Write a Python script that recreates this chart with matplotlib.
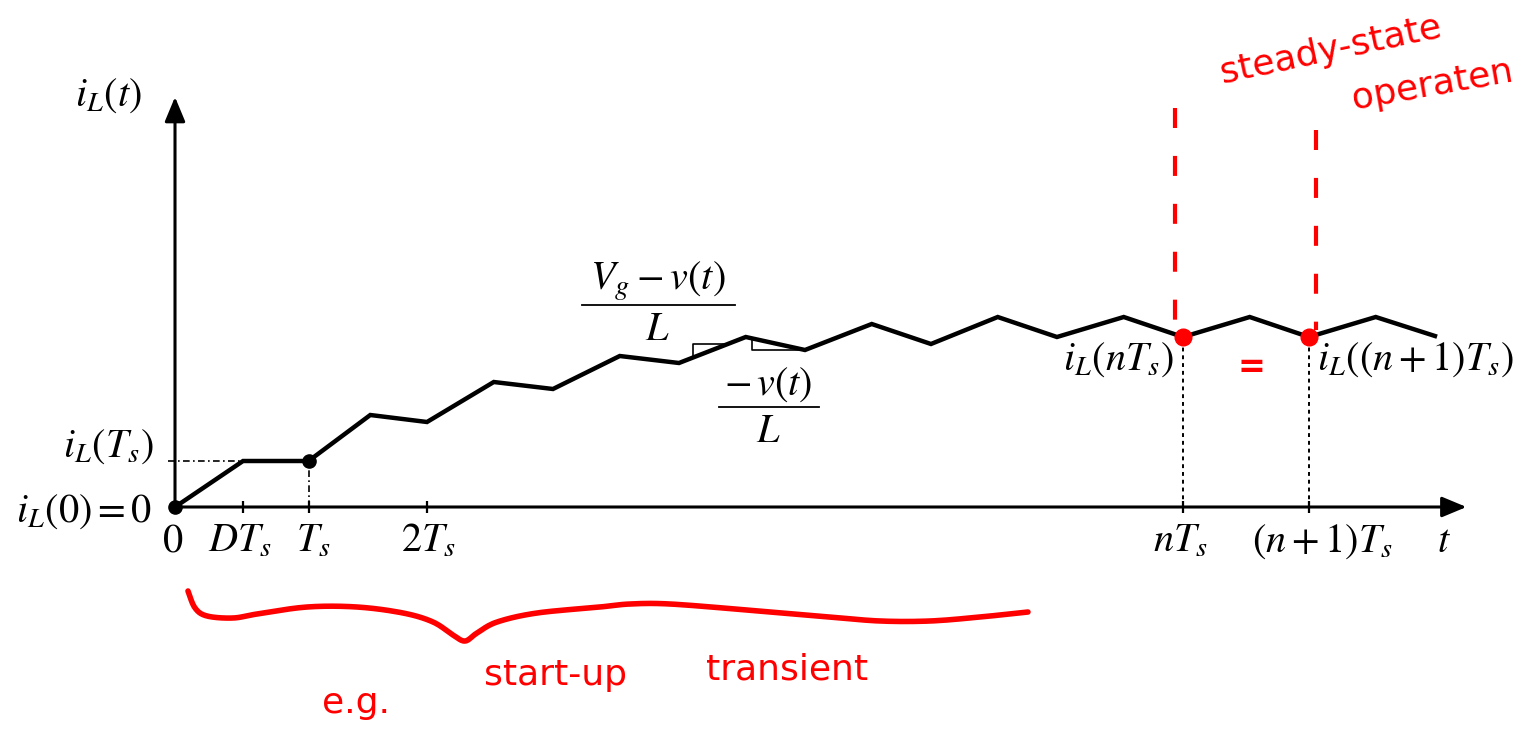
import numpy as np
import matplotlib
matplotlib.use('Agg')
import matplotlib.pyplot as plt

plt.rcParams['mathtext.fontset'] = 'stix'
plt.rcParams['font.family'] = ['DejaVu Sans']

# inductor current during start-up, corner points (t in switching periods)
t_corner = [0, 0.54, 1.06, 1.55, 2.0, 2.53, 3.0, 3.53, 4.0, 4.53, 5.0, 5.53,
            6.0, 6.53, 7.0, 7.53, 8.0, 8.53, 9.0, 9.53, 10.0]
i_corner = [0, 0.46, 0.46, 0.92, 0.85, 1.25, 1.18, 1.51, 1.44, 1.70, 1.57, 1.83,
            1.63, 1.90, 1.70, 1.90, 1.70, 1.90, 1.70, 1.90, 1.71]

# time axis ticks and their labels
tick_t = [0.54, 1.06, 2.0, 8.0, 9.0]
tick_labels = [r'$DT_s$', r'$T_s$', r'$2T_s$', r'$nT_s$', r'$(n+1)T_s$']
tick_label_left = [0.26, 0.96, 1.79, 7.76, 8.55]

# marked samples
i_Ts = 0.46
t_n, t_n1 = 8.0, 9.0
i_n = 1.70

# hand drawn brace under the transient part
brace_t = [0.103, 0.159, 0.254, 0.460, 0.651, 1.048, 1.444, 1.810, 2.048, 2.206,
           2.302, 2.397, 2.556, 2.873, 3.373, 3.611, 3.929, 4.540, 5.198, 5.595,
           5.992, 6.389, 6.770]
brace_i = [-0.84, -1.01, -1.09, -1.11, -1.07, -1.00, -1.00, -1.06, -1.15, -1.28,
           -1.34, -1.26, -1.15, -1.06, -1.00, -0.97, -0.97, -1.03, -1.10, -1.14,
           -1.14, -1.10, -1.05]


def smooth_stroke(xs, ys, n=12):
    # Catmull-Rom pass through the stroke points so the pen line looks round
    p = np.column_stack([xs, ys])
    p = np.vstack([p[0], p, p[-1]])
    out = []
    s = np.linspace(0, 1, n, endpoint=False)[:, None]
    for k in range(1, len(p) - 2):
        p0, p1, p2, p3 = p[k - 1], p[k], p[k + 1], p[k + 2]
        out.append(0.5 * (2 * p1 + (-p0 + p2) * s + (2 * p0 - 5 * p1 + 4 * p2 - p3) * s ** 2
                          + (-p0 + 3 * p1 - 3 * p2 + p3) * s ** 3))
    out.append(p[-2][None, :])
    out = np.vstack(out)
    return out[:, 0], out[:, 1]


fig = plt.figure(figsize=(15.37, 7.36), dpi=100)
ax = fig.add_axes([0, 0, 1, 1])
ax.set_xlim(-1.389, 10.81)
ax.set_ylim(-2.29, 5.07)
ax.axis('off')

# axes with arrow heads
arrow = dict(arrowstyle='-|>,head_length=0.6,head_width=0.25', lw=2.2,
             color='black', mutation_scale=25, shrinkA=0, shrinkB=0)
ax.annotate('', xy=(10.25, 0), xytext=(0, 0), arrowprops=arrow)
ax.annotate('', xy=(0, 4.10), xytext=(0, 0), arrowprops=arrow)
ax.vlines(tick_t, -0.06, 0.06, color='black', lw=1.6)

# waveform
ax.plot(t_corner, i_corner, color='black', lw=3.2, solid_joinstyle='miter', zorder=3)

# reference lines
ax.plot([-0.056, 0.54], [i_Ts, i_Ts], color='black', lw=1.2, ls=(0, (4, 2, 1, 2)))
ax.plot([1.06, 1.06], [0, i_Ts], color='black', lw=1.2, ls=(0, (4, 2, 1, 2)))
ax.plot([t_n, t_n], [0, i_n], color='black', lw=1.4, ls=(0, (2, 2)))
ax.plot([t_n1, t_n1], [0, i_n], color='black', lw=1.4, ls=(0, (2, 2)))

ax.plot([0, 1.06], [0, i_Ts], 'o', color='black', ms=9.5, zorder=4)

# slope triangles
t_a, top_a = 4.11, 1.63
ax.plot([t_a, t_a, np.interp(top_a, [1.44, 1.70], [4.0, 4.53])],
        [np.interp(t_a, t_corner, i_corner), top_a, top_a], color='black', lw=1.2)
t_b, bot_b = 4.58, 1.57
ax.plot([t_b, t_b, 5.0], [np.interp(t_b, t_corner, i_corner), bot_b, bot_b],
        color='black', lw=1.2)

fs = 29
ax.text(-0.79, 4.01, r'$i_L(t)$', fontsize=fs, ha='left', va='baseline')
ax.text(-0.17, 0.50, r'$i_L(T_s)$', fontsize=fs, ha='right', va='baseline')
ax.text(-0.18, -0.15, r'$i_L(0) = 0$', fontsize=fs, ha='right', va='baseline')
ax.text(-0.016, -0.45, r'$0$', fontsize=fs, ha='center', va='baseline')
for x, lab in zip(tick_label_left, tick_labels):
    ax.text(x, -0.45, lab, fontsize=fs, ha='left', va='baseline')
ax.text(10.02, -0.45, r'$t$', fontsize=fs, ha='left', va='baseline')
ax.text(7.93, 1.37, r'$i_L(nT_s)$', fontsize=fs, ha='right', va='baseline')
ax.text(9.06, 1.37, r'$i_L((n+1)T_s)$', fontsize=fs, ha='left', va='baseline')

# slope fractions
ax.text(3.83, 2.17, r'$V_g - v(t)$', fontsize=fs, ha='center', va='baseline')
ax.plot([3.23, 4.444], [2.02, 2.02], color='black', lw=1.3)
ax.text(3.83, 1.67, r'$L$', fontsize=fs, ha='center', va='baseline')
ax.text(4.71, 1.12, r'$-\,v(t)$', fontsize=fs, ha='center', va='baseline')
ax.plot([4.317, 5.111], [1.00, 1.00], color='black', lw=1.3)
ax.text(4.71, 0.65, r'$L$', fontsize=fs, ha='center', va='baseline')

# red notes
red = '#ff0000'
ax.plot([7.94, 7.94], [3.99, 1.77], color=red, lw=3, ls=(0, (4.8, 6.7)))
ax.plot([9.056, 9.056], [3.77, 1.77], color=red, lw=3, ls=(0, (4.8, 6.7)))
ax.plot([t_n, t_n1], [i_n, i_n], 'o', color=red, ms=12, zorder=5)
ax.text(8.54, 1.40, '=', fontsize=24, color=red, ha='center', va='center', fontweight='bold')
ax.text(9.17, 4.57, 'steady-state', fontsize=26, color=red, ha='center', va='center', rotation=12)
ax.text(9.98, 4.22, 'operaten', fontsize=26, color=red, ha='center', va='center', rotation=10)

bx, by = smooth_stroke(brace_t, brace_i)
ax.plot(bx, by, color=red, lw=4, solid_capstyle='round', solid_joinstyle='round')
ax.text(1.44, -1.96, 'e.g.', fontsize=26, color=red, ha='center', va='center')
ax.text(3.02, -1.68, 'start-up', fontsize=26, color=red, ha='center', va='center')
ax.text(4.86, -1.63, 'transient', fontsize=26, color=red, ha='center', va='center')

fig.savefig('out.png', dpi=100, facecolor='white')
